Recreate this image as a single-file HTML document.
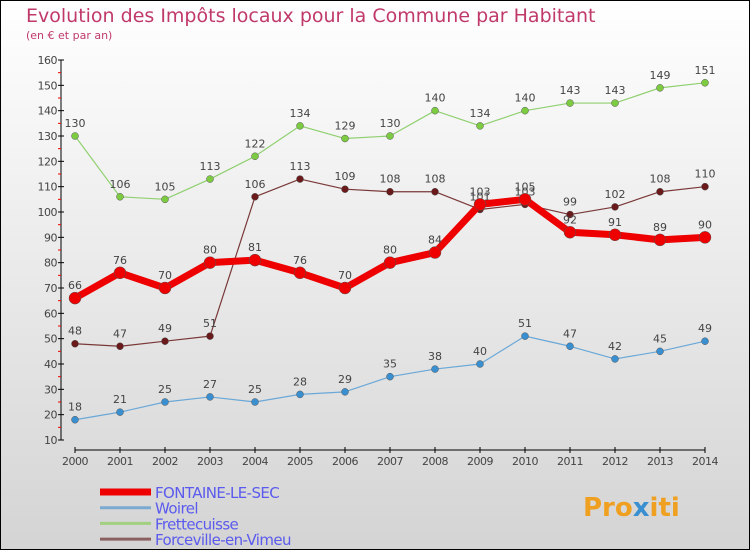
<!DOCTYPE html>
<html><head><meta charset="utf-8"><style>
body{margin:0;}
#c{width:750px;height:550px;position:relative;}
svg text{font-family:"DejaVu Sans","Liberation Sans",sans-serif;}
</style></head><body>
<div id="c">
<svg id="s" width="750" height="550" xmlns="http://www.w3.org/2000/svg">
<defs><linearGradient id="bg" x1="0" y1="0" x2="0" y2="1"><stop offset="0" stop-color="#ffffff"/><stop offset="1" stop-color="#d4d4d4"/></linearGradient></defs>
<rect x="0.5" y="0.5" width="749" height="549" fill="url(#bg)" stroke="#000" stroke-width="1"/>
<text x="26" y="22" font-size="19" fill="#c0396b">Evolution des Impôts locaux pour la Commune par Habitant</text>
<text x="26" y="39" font-size="11" fill="#c0396b">(en € et par an)</text>
<g id="axes"></g><g id="series"></g><g id="legend"></g>
<text x="583" y="516" font-size="26" font-weight="bold" fill="#f0a020">Pro<tspan fill="#3a8fd0">x</tspan>iti</text>
</svg></div>
<script>
const years=[2000,2001,2002,2003,2004,2005,2006,2007,2008,2009,2010,2011,2012,2013,2014];
const yTicks=[10,20,30,40,50,60,70,80,90,100,110,120,130,140,150,160];
const fontaine=[66,76,70,80,81,76,70,80,84,103,105,92,91,89,90];
const woirel=[18,21,25,27,25,28,29,35,38,40,51,47,42,45,49];
const frette=[130,106,105,113,122,134,129,130,140,134,140,143,143,149,151];
const forceville=[48,47,49,51,106,113,109,108,108,101,103,99,102,108,110];
const NS="http://www.w3.org/2000/svg";
function X(i){return 75+i*45;}
function Y(v){return 440-(v-10)*380/150;}
function mk(t,a,p){const e=document.createElementNS(NS,t);for(const k in a)e.setAttribute(k,a[k]);p.appendChild(e);return e;}
const ax=document.getElementById('axes');
let e=mk('line',{x1:61,y1:Y(160),x2:61,y2:Y(10),stroke:'#000','stroke-width':1},ax);


e=mk('line',{x1:75,y1:450,x2:705,y2:450,stroke:'#000','stroke-width':1},ax);


yTicks.forEach((v,i)=>{
 mk('line',{x1:58,y1:Y(v),x2:64,y2:Y(v),stroke:'#000'},ax);
 if(i<yTicks.length-1) mk('line',{x1:58,y1:Y(v+5),x2:61,y2:Y(v+5),stroke:'#e00'},ax);
 const t=mk('text',{x:57,y:Y(v)+4,'font-size':11,'text-anchor':'end',fill:'#444','letter-spacing':'-0.5'},ax);
 t.textContent=v;
 
 
});
years.forEach((y,i)=>{
 mk('line',{x1:X(i),y1:447,x2:X(i),y2:453,stroke:'#000'},ax);
 const t=mk('text',{x:X(i),y:465,'font-size':11,'text-anchor':'middle',fill:'#444','letter-spacing':'-0.5'},ax);
 t.textContent=y;
 
 
});
const sg=document.getElementById('series');
function series(vals,color,dot,w,r,name){
 const g=mk('g',{},sg);
 
 
 mk('polyline',{points:vals.map((v,i)=>X(i)+','+Y(v)).join(' '),fill:'none',stroke:color,'stroke-width':w,'stroke-linejoin':'round'},g);
 vals.forEach((v,i)=>{
  const c=mk('circle',{cx:X(i),cy:Y(v),r:r,fill:dot,stroke:'#555','stroke-width':0.5},g);
  
  
  const t=mk('text',{x:X(i),y:Y(v)-9,'font-size':11,'text-anchor':'middle',fill:'#444'},g);
  t.textContent=v;
  
  
 });
}
series(woirel,'#6aa8d8','#3a8fd0',1.2,3.5,'series-woirel');
series(frette,'#90d070','#7ccb40',1.2,3.5,'series-frettecuisse');
series(forceville,'#7a3838','#6a1a1a',1.2,3.5,'series-forceville');
series(fontaine,'#ee0000','#ee0000',7,6,'series-fontaine');
const lg=document.getElementById('legend');
[['FONTAINE-LE-SEC','#ee0000',7],['Woirel','#7aaad0',3],['Frettecuisse','#a0d080',3],['Forceville-en-Vimeu','#8a6060',3]].forEach((d,i)=>{
 const yy=492+i*15.7;
 const g=mk('g',{},lg);
 
 
 mk('line',{x1:100,y1:yy,x2:151,y2:yy,stroke:d[1],'stroke-width':d[2]},g);
 const t=mk('text',{x:155,y:yy+6,'font-size':15,fill:'#5a5aee','letter-spacing':'-0.6'},g);
 t.textContent=d[0];
});
</script>
</body></html>
